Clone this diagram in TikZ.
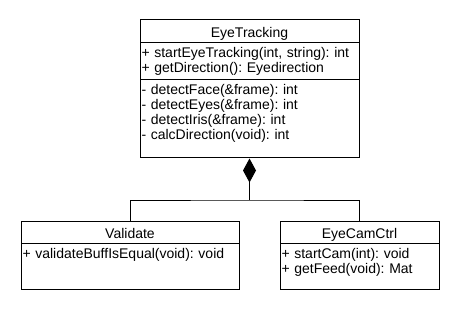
\documentclass[tikz,border=0pt]{standalone}
\usepackage{fontspec}
\setmainfont{Liberation Sans}
\usetikzlibrary{positioning,arrows.meta}

\begin{document}
\frenchspacing
\begin{tikzpicture}[
  x=1pt, y=-1pt,
  every node/.style={font=\fontsize{14}{15}\selectfont},
  classhead/.style={
    draw, line width=1pt, fill=white, inner sep=0pt, outer sep=0pt,
    text height=17.5pt, text depth=5pt,
  },
  members/.style={
    draw, line width=1pt, fill=white, inner xsep=1.5pt, inner ysep=0pt,
    outer sep=0pt, align=left, text height=15pt,
  },
  link/.style={line width=1pt},
  compose/.style={link, {Diamond[length=24pt, width=13pt]}-, shorten <=1pt},
]
  \useasboundingbox (0,0) rectangle (460,310);

  \node[classhead, minimum width=219pt, anchor=north] (eyeHead) at (249.5,20) {EyeTracking};
  \node[members, text width=216pt, text depth=22pt, below=0pt of eyeHead] (eyePub)
    {+ startEyeTracking(int, string): int\\+ getDirection(): Eyedirection};
  \node[members, text width=216pt, text depth=63pt, below=0pt of eyePub] (eyePriv)
    {- detectFace(\&frame): int\\- detectEyes(\&frame): int\\- detectIris(\&frame): int\\- calcDirection(void): int};

  \node[classhead, minimum width=218pt, anchor=north] (valHead) at (130,221) {Validate};
  \node[members, text width=215pt, text depth=31pt, below=0pt of valHead] (valBody)
    {+ validateBuffIsEqual(void): void};

  \node[classhead, minimum width=159pt, anchor=north] (camHead) at (359.5,221) {EyeCamCtrl};
  \node[members, text width=156pt, text depth=31pt, below=0pt of camHead] (camBody)
    {+ startCam(int): void\\+ getFeed(void): Mat};

  \coordinate (fork) at (249.5,200);
  \draw[compose] (eyePriv.south) -- (fork);
  \draw[link] (valHead.north) |- (fork) -| (camHead.north);
\end{tikzpicture}
\end{document}
